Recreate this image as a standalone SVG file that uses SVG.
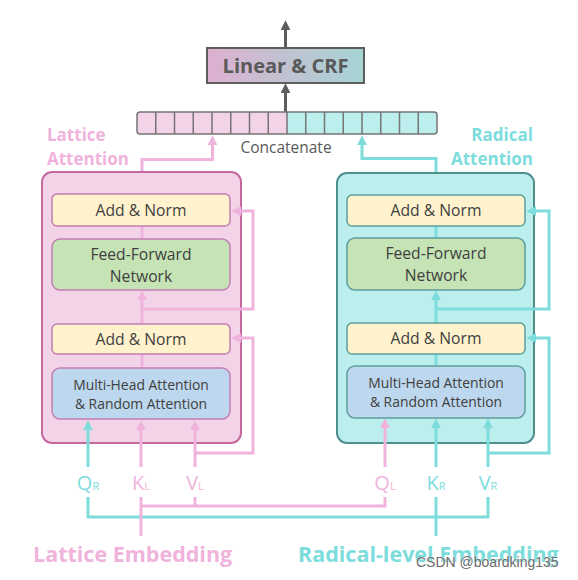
<svg xmlns="http://www.w3.org/2000/svg" width="578" height="580" viewBox="0 0 578 580">
<defs>
<style>
text{font-family:"Open Sans","Noto Sans","DejaVu Sans",sans-serif;fill:#404040;}
.lbl{font-size:15.7px;text-anchor:middle;}
.mha{font-size:13.9px;text-anchor:middle;}
.pk{stroke:#efb3dc;stroke-width:3;fill:none;}
.tl{stroke:#7ddcdc;stroke-width:3;fill:none;}
.gy{stroke:#5e5e5e;stroke-width:3;fill:none;}
.an{fill:#fff2cc;}
.ffn{fill:#c5e3b4;}
.mh{fill:#bdd7ee;}
.lin{stroke:#c47fb2;stroke-width:1.5;}
.rin{stroke:#5c9f9b;stroke-width:1.5;}
.io{font-size:20px;text-anchor:middle;}
.io tspan{font-size:11px;}
.pkt{fill:#efb3dc;}
.tlt{fill:#7ddcdc;}
.head{font-size:17px;font-weight:700;}
.emb{font-size:21.5px;font-weight:700;}
</style>
<linearGradient id="lg" x1="0" y1="0" x2="1" y2="0">
<stop offset="0" stop-color="#ddb0cf"/>
<stop offset="1" stop-color="#a5d4d4"/>
</linearGradient>
<marker id="ap" markerUnits="userSpaceOnUse" markerWidth="10" markerHeight="10" viewBox="0 0 8 8" refX="1" refY="4" orient="auto"><path d="M0,0L8,4L0,8z" fill="#efb3dc"/></marker>
<marker id="at" markerUnits="userSpaceOnUse" markerWidth="10" markerHeight="10" viewBox="0 0 8 8" refX="1" refY="4" orient="auto"><path d="M0,0L8,4L0,8z" fill="#7ddcdc"/></marker>
<marker id="ag" markerUnits="userSpaceOnUse" markerWidth="10" markerHeight="10" viewBox="0 0 8 8" refX="1" refY="4" orient="auto"><path d="M0,0L8,4L0,8z" fill="#5e5e5e"/></marker>
</defs>
<rect width="578" height="580" fill="#ffffff"/>

<g id="connectors">
<path class="gy" d="M285.5,48V29" marker-end="url(#ag)"/>
<path class="gy" d="M285.5,112V92" marker-end="url(#ag)"/>
<path class="pk" d="M142,194V159.5H212.5V144" marker-end="url(#ap)"/>
<path class="tl" d="M436,195V158.5H362V144" marker-end="url(#at)"/>
</g>

<g id="lattice-box">
<rect x="42" y="172" width="199" height="271" rx="10" fill="#f2d3e8" stroke="#c4689f" stroke-width="2"/>
</g>
<g id="radical-box">
<rect x="337" y="173" width="197" height="270" rx="10" fill="#bdeeee" stroke="#4f8f8c" stroke-width="2"/>
</g>

<g id="connectors-inner">
<path class="pk" d="M142,239V226M142,368V354"/>
<path class="pk" d="M142,324V299" marker-end="url(#ap)"/>
<path class="pk" d="M142,309H253V211H240" marker-end="url(#ap)"/>
<path class="pk" d="M195,453H253V338H240" marker-end="url(#ap)"/>
<path class="tl" d="M88,467V429" marker-end="url(#at)"/>
<path class="pk" d="M141,467V429" marker-end="url(#ap)"/>
<path class="pk" d="M195,467V429" marker-end="url(#ap)"/>
<path class="tl" d="M436,238V226M436,366V354"/>
<path class="tl" d="M436,323V299" marker-end="url(#at)"/>
<path class="tl" d="M436,309H549V211H535" marker-end="url(#at)"/>
<path class="tl" d="M488,453H549V338H535" marker-end="url(#at)"/>
<path class="pk" d="M385,467V427" marker-end="url(#ap)"/>
<path class="tl" d="M436,467V427" marker-end="url(#at)"/>
<path class="tl" d="M488,467V427" marker-end="url(#at)"/>
<path class="tl" d="M88,497V517H488V497M436,497V536"/>
<path class="pk" d="M141,497V536M141,506H385V497M195,497V506"/>
</g>

<g id="linear-crf">
<rect x="207" y="48" width="157" height="35" fill="url(#lg)" stroke="#5e5e5e" stroke-width="2"/>
<text x="285.5" y="73" text-anchor="middle" font-size="20" font-weight="700" style="fill:#595959">Linear &amp; CRF</text>
</g>

<g id="concatenate">
<rect x="137" y="112" width="150" height="22" fill="#f2d3e8"/>
<rect x="287" y="112" width="150" height="22" fill="#bdeeee"/>
<path d="M155.75,112V134M174.5,112V134M193.25,112V134M212,112V134M230.75,112V134M249.5,112V134M268.25,112V134M287,112V134M305.75,112V134M324.5,112V134M343.25,112V134M362,112V134M380.75,112V134M399.5,112V134M418.25,112V134" stroke="#757575" stroke-width="1.5"/>
<rect x="137" y="112" width="300" height="22" rx="3" fill="none" stroke="#757575" stroke-width="1.5"/>
<text x="286" y="152.5" text-anchor="middle" font-size="15.5" style="fill:#595959">Concatenate</text>
</g>

<g id="lattice-attention-label">
<text class="head pkt" x="47" y="141">Lattice</text>
<text class="head pkt" x="47" y="165">Attention</text>
</g>
<g id="radical-attention-label">
<text class="head tlt" x="533" y="141" text-anchor="end">Radical</text>
<text class="head tlt" x="533" y="165" text-anchor="end">Attention</text>
</g>

<g id="l-addnorm1"><rect class="an lin" x="52" y="194" width="178" height="32" rx="5"/><text class="lbl" x="141" y="216">Add &amp; Norm</text></g>
<g id="l-ffn"><rect class="ffn lin" x="52" y="239" width="178" height="51" rx="8"/><text class="lbl" x="141" y="260">Feed-Forward</text><text class="lbl" x="141" y="282">Network</text></g>
<g id="l-addnorm2"><rect class="an lin" x="52" y="324" width="178" height="30" rx="5"/><text class="lbl" x="141" y="345">Add &amp; Norm</text></g>
<g id="l-mha"><rect class="mh lin" x="52" y="368" width="178" height="51" rx="8"/><text class="mha" x="141" y="390">Multi-Head Attention</text><text class="mha" x="141" y="409">&amp; Random Attention</text></g>

<g id="r-addnorm1"><rect class="an rin" x="347" y="195" width="178" height="31" rx="5"/><text class="lbl" x="436" y="216">Add &amp; Norm</text></g>
<g id="r-ffn"><rect class="ffn rin" x="347" y="238" width="178" height="52" rx="8"/><text class="lbl" x="436" y="259">Feed-Forward</text><text class="lbl" x="436" y="281">Network</text></g>
<g id="r-addnorm2"><rect class="an rin" x="347" y="323" width="178" height="31" rx="5"/><text class="lbl" x="436" y="344">Add &amp; Norm</text></g>
<g id="r-mha"><rect class="mh rin" x="347" y="366" width="178" height="52" rx="8"/><text class="mha" x="436" y="388">Multi-Head Attention</text><text class="mha" x="436" y="407">&amp; Random Attention</text></g>

<g id="inputs">
<text class="io tlt" x="88" y="490">Q<tspan>R</tspan></text>
<text class="io pkt" x="141" y="490">K<tspan>L</tspan></text>
<text class="io pkt" x="195" y="490">V<tspan>L</tspan></text>
<text class="io pkt" x="385" y="490">Q<tspan>L</tspan></text>
<text class="io tlt" x="436" y="490">K<tspan>R</tspan></text>
<text class="io tlt" x="488" y="490">V<tspan>R</tspan></text>
</g>

<g id="lattice-embedding"><text class="emb pkt" x="33" y="562">Lattice Embedding</text></g>
<g id="radical-embedding"><text class="emb tlt" x="298" y="562">Radical-level Embedding</text></g>
<text x="416" y="567" font-size="14" style="fill:#6a6a6a;font-family:'Liberation Sans',Arial,sans-serif" stroke="#ffffff" stroke-width="0.6" paint-order="stroke">CSDN @boardking135</text>
</svg>
